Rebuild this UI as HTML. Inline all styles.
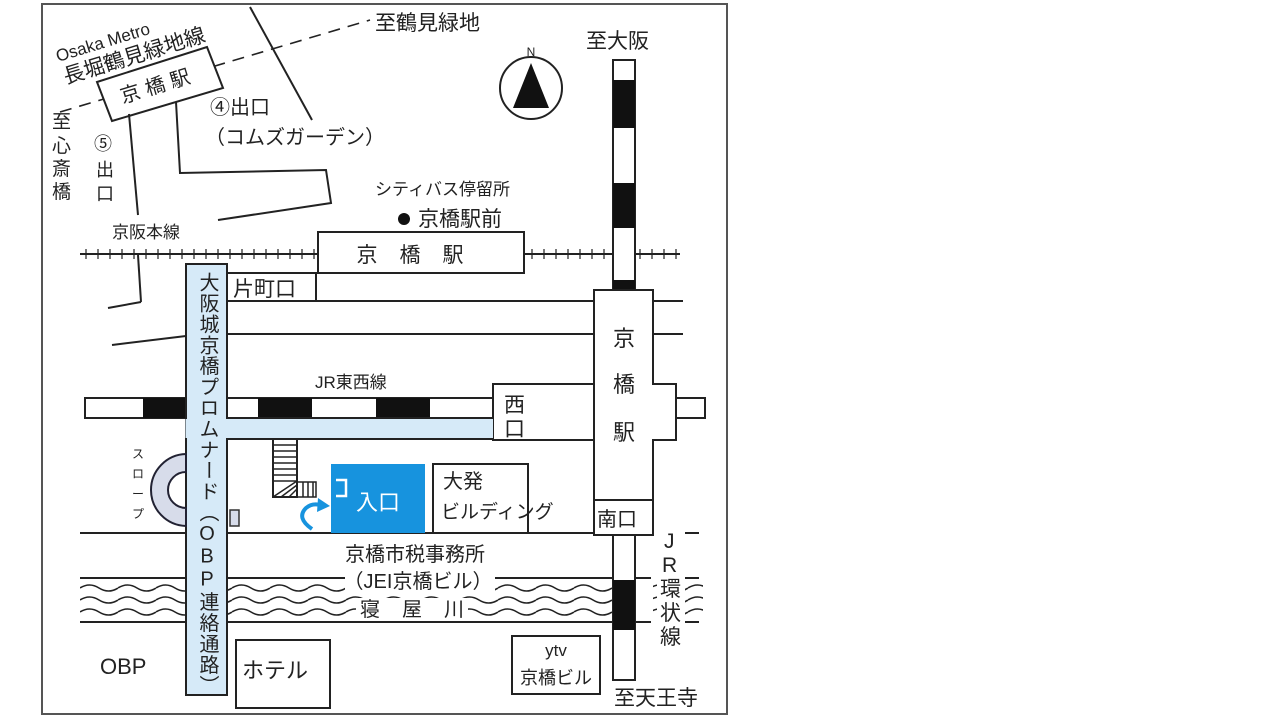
<!DOCTYPE html>
<html><head><meta charset="utf-8"><style>
html,body{margin:0;padding:0;background:#fff;width:1280px;height:720px;overflow:hidden;position:relative}
svg{display:block}
text{font-family:"Liberation Sans","Noto Sans CJK JP",sans-serif;fill:#222}
.vt{position:absolute;left:186px;top:272px;width:41px;height:425px;writing-mode:vertical-rl;text-orientation:upright;font-family:"Liberation Sans","Noto Sans CJK JP",sans-serif;font-size:20px;line-height:41px;letter-spacing:0.9px;color:#222;text-align:start}
</style></head><body>
<svg width="1280" height="720" viewBox="0 0 1280 720" xmlns="http://www.w3.org/2000/svg">
<defs>
<pattern id="wv" x="80" y="582" width="38" height="12" patternUnits="userSpaceOnUse">
<path d="M0 6 Q9.5 0 19 6 T38 6" fill="none" stroke="#222" stroke-width="1.6"/>
</pattern>
</defs>
<rect x="42" y="4" width="685" height="710" fill="#fff" stroke="#555" stroke-width="2"/>

<!-- river -->
<rect x="80" y="582" width="532" height="36" fill="url(#wv)"/>
<rect x="653" y="582" width="50" height="36" fill="url(#wv)"/>
<line x1="80" y1="578" x2="612" y2="578" stroke="#222" stroke-width="2"/>
<line x1="80" y1="622" x2="612" y2="622" stroke="#222" stroke-width="2"/>
<line x1="635" y1="578" x2="705" y2="578" stroke="#222" stroke-width="2" stroke-dasharray="16 8"/>
<line x1="635" y1="622" x2="705" y2="622" stroke="#222" stroke-width="2" stroke-dasharray="16 8"/>
<line x1="80" y1="533" x2="612" y2="533" stroke="#222" stroke-width="2"/>
<line x1="635" y1="533" x2="705" y2="533" stroke="#222" stroke-width="2" stroke-dasharray="16 8"/>
<rect x="345" y="568" width="150" height="24" fill="#fff"/>
<rect x="356" y="598" width="112" height="22" fill="#fff"/>
<rect x="657" y="530" width="28" height="116" fill="#fff"/>

<!-- top-left -->
<line x1="60" y1="112" x2="370" y2="20" stroke="#222" stroke-width="1.6" stroke-dasharray="12 8"/>
<polygon points="97,82 207,47 223,88 112,121" fill="#fff" stroke="#222" stroke-width="2"/>
<text transform="translate(160,92) rotate(-17)" font-size="20" text-anchor="middle" letter-spacing="6">京橋駅</text>
<text transform="translate(58,62) rotate(-17)" font-size="17">Osaka Metro</text>
<text transform="translate(66,84) rotate(-17)" font-size="21">長堀鶴見緑地線</text>
<line x1="250" y1="7" x2="312" y2="120" stroke="#222" stroke-width="2"/>
<polyline points="129,114 138,215" fill="none" stroke="#222" stroke-width="2"/>
<polyline points="176,102 180,173 326,170 331,203 218,220" fill="none" stroke="#222" stroke-width="2"/>
<text x="52" y="128" font-size="19">至</text>
<text x="52" y="152" font-size="19">心</text>
<text x="52" y="175" font-size="19">斎</text>
<text x="52" y="198" font-size="19">橋</text>
<text x="94" y="150" font-size="18">⑤</text>
<text x="96" y="176" font-size="18">出</text>
<text x="96" y="200" font-size="18">口</text>
<text x="210" y="114" font-size="20">④出口</text>
<text x="205" y="144" font-size="20">（コムズガーデン）</text>
<text x="375" y="195" font-size="17">シティバス停留所</text>
<circle cx="404" cy="219" r="6" fill="#111"/>
<text x="418" y="226" font-size="21">京橋駅前</text>
<text x="112" y="238" font-size="17" fill="#111">京阪本線</text>

<!-- compass -->
<circle cx="531" cy="88" r="31" fill="#fff" stroke="#222" stroke-width="2"/>
<polygon points="531,63 513,108 549,108" fill="#111"/>
<text x="531" y="56" font-size="12" text-anchor="middle">N</text>
<text x="375" y="30" font-size="21">至鶴見緑地</text>
<text x="586" y="48" font-size="21">至大阪</text>

<!-- keihan line -->
<line x1="80" y1="254" x2="680" y2="254" stroke="#222" stroke-width="2"/>
<g stroke="#222" stroke-width="1.2">
<path d="M86 249v10M98 249v10M110 249v10M122 249v10M134 249v10M146 249v10M158 249v10M170 249v10M182 249v10M194 249v10M206 249v10M218 249v10M230 249v10M242 249v10M254 249v10M266 249v10M278 249v10M290 249v10M302 249v10M314 249v10M532 249v10M544 249v10M556 249v10M568 249v10M580 249v10M592 249v10M604 249v10M640 249v10M652 249v10M664 249v10M676 249v10"/>
</g>
<line x1="138" y1="255" x2="141" y2="302" stroke="#222" stroke-width="2"/>
<line x1="141" y1="302" x2="108" y2="308" stroke="#222" stroke-width="2"/>
<line x1="112" y1="345" x2="186" y2="336" stroke="#222" stroke-width="2"/>

<!-- JR loop line -->
<rect x="613" y="60" width="22" height="230" fill="#fff" stroke="#222" stroke-width="2"/>
<rect x="613" y="80" width="22" height="48" fill="#111"/>
<rect x="613" y="183" width="22" height="45" fill="#111"/>
<rect x="613" y="280" width="22" height="10" fill="#111"/>
<rect x="613" y="535" width="22" height="145" fill="#fff" stroke="#222" stroke-width="2"/>
<rect x="613" y="580" width="22" height="50" fill="#111"/>

<rect x="318" y="232" width="206" height="41" fill="#fff" stroke="#222" stroke-width="2"/>
<text x="421" y="262" font-size="21" text-anchor="middle" letter-spacing="22">京橋駅</text>

<!-- roads -->
<line x1="227" y1="301" x2="594" y2="301" stroke="#222" stroke-width="2"/>
<line x1="227" y1="334" x2="594" y2="334" stroke="#222" stroke-width="2"/>
<line x1="653" y1="301" x2="683" y2="301" stroke="#222" stroke-width="2"/>
<line x1="653" y1="334" x2="683" y2="334" stroke="#222" stroke-width="2"/>

<!-- tozai line -->
<rect x="85" y="398" width="620" height="20" fill="#fff" stroke="#222" stroke-width="2"/>
<rect x="143" y="398" width="43" height="20" fill="#111"/>
<rect x="258" y="398" width="54" height="20" fill="#111"/>
<rect x="376" y="398" width="54" height="20" fill="#111"/>
<text x="315" y="388" font-size="17" fill="#111">JR東西線</text>

<!-- JR station cross -->
<polygon points="594,290 653,290 653,384 676,384 676,440 653,440 653,535 594,535 594,440 493,440 493,384 594,384" fill="#fff" stroke="#222" stroke-width="2"/>
<line x1="594" y1="384" x2="594" y2="440" stroke="#222" stroke-width="2"/>
<text x="504" y="412" font-size="21">西</text>
<text x="504" y="436" font-size="21">口</text>
<text x="613" y="346" font-size="22">京</text>
<text x="613" y="392" font-size="22">橋</text>
<text x="613" y="440" font-size="22">駅</text>
<rect x="594" y="500" width="59" height="35" fill="#fff" stroke="#222" stroke-width="2"/>
<text x="597" y="526" font-size="20">南口</text>
<text x="664" y="548" font-size="21">J</text>
<text x="662" y="572" font-size="21">R</text>
<text x="660" y="596" font-size="21">環</text>
<text x="660" y="620" font-size="21">状</text>
<text x="660" y="644" font-size="21">線</text>

<!-- promenade -->
<rect x="186" y="264" width="41" height="431" fill="#d6eaf8" stroke="#222" stroke-width="2"/>
<rect x="227" y="418" width="266" height="21" fill="#d6eaf8"/>
<line x1="227" y1="418" x2="493" y2="418" stroke="#222" stroke-width="2"/>
<line x1="227" y1="439" x2="493" y2="439" stroke="#222" stroke-width="2"/>
<rect x="185.5" y="419" width="42" height="19" fill="#d6eaf8"/>
<rect x="227" y="273" width="89" height="28" fill="#fff" stroke="#222" stroke-width="2"/>
<text x="233" y="296" font-size="21">片町口</text>

<!-- block -->
<line x1="227" y1="439" x2="227" y2="533" stroke="#222" stroke-width="2"/>
<path d="M151 490 A36 36 0 0 1 186 454 L186 472 A18 18 0 0 0 168 490 A18 18 0 0 0 186 508 L186 526 A36 36 0 0 1 151 490Z" fill="#d7dcea" stroke="#223" stroke-width="2"/>
<text x="132" y="458" font-size="12">ス</text>
<text x="132" y="478" font-size="12">ロ</text>
<text x="132" y="498" font-size="12">ー</text>
<text x="132" y="518" font-size="12">プ</text>
<rect x="230" y="510" width="9" height="16" fill="#d7dcea" stroke="#333" stroke-width="1.5"/>
<rect x="273" y="439" width="24" height="58" fill="#fff" stroke="#222" stroke-width="2"/>
<g stroke="#222" stroke-width="1.5"><path d="M273 445h24M273 451h24M273 457h24M273 463h24M273 469h24M273 475h24M273 481h24M303 482v15M308 482v15M313 482v15M273 497L297 481M281 497L297 485M289 497L297 489"/></g>
<rect x="297" y="482" width="19" height="15" fill="none" stroke="#222" stroke-width="1.5"/>

<rect x="331" y="464" width="94" height="69" fill="#1793de"/>
<path d="M336 480h10v16h-10" fill="none" stroke="#fff" stroke-width="2.5"/>
<text x="356" y="510" font-size="22" style="fill:#fff">入口</text>
<path d="M312 529 Q296 518 306 508 Q312 503 320 505" fill="none" stroke="#1793de" stroke-width="4"/>
<polygon points="318,498 330,506 317,512" fill="#1793de"/>
<polyline points="433,533 433,464 528,464 528,533" fill="none" stroke="#222" stroke-width="2"/>
<text x="443" y="488" font-size="20">大発</text>
<text x="441" y="518" font-size="19">ビルディング</text>

<text x="415" y="561" font-size="20" text-anchor="middle">京橋市税事務所</text>
<text x="418" y="588" font-size="20" text-anchor="middle">（JEI京橋ビル）</text>
<text x="360" y="616" font-size="20" letter-spacing="22">寝屋川</text>

<text x="100" y="674" font-size="22">OBP</text>
<rect x="236" y="640" width="94" height="68" fill="#fff" stroke="#222" stroke-width="2"/>
<text x="242" y="678" font-size="22">ホテル</text>
<rect x="512" y="636" width="88" height="58" fill="#fff" stroke="#222" stroke-width="2"/>
<text x="556" y="656" font-size="17" text-anchor="middle">ytv</text>
<text x="556" y="684" font-size="18" text-anchor="middle">京橋ビル</text>
<text x="614" y="705" font-size="21">至天王寺</text>
</svg>
<div class="vt">大阪城京橋プロムナード（OBP連絡通路）</div>
</body></html>
